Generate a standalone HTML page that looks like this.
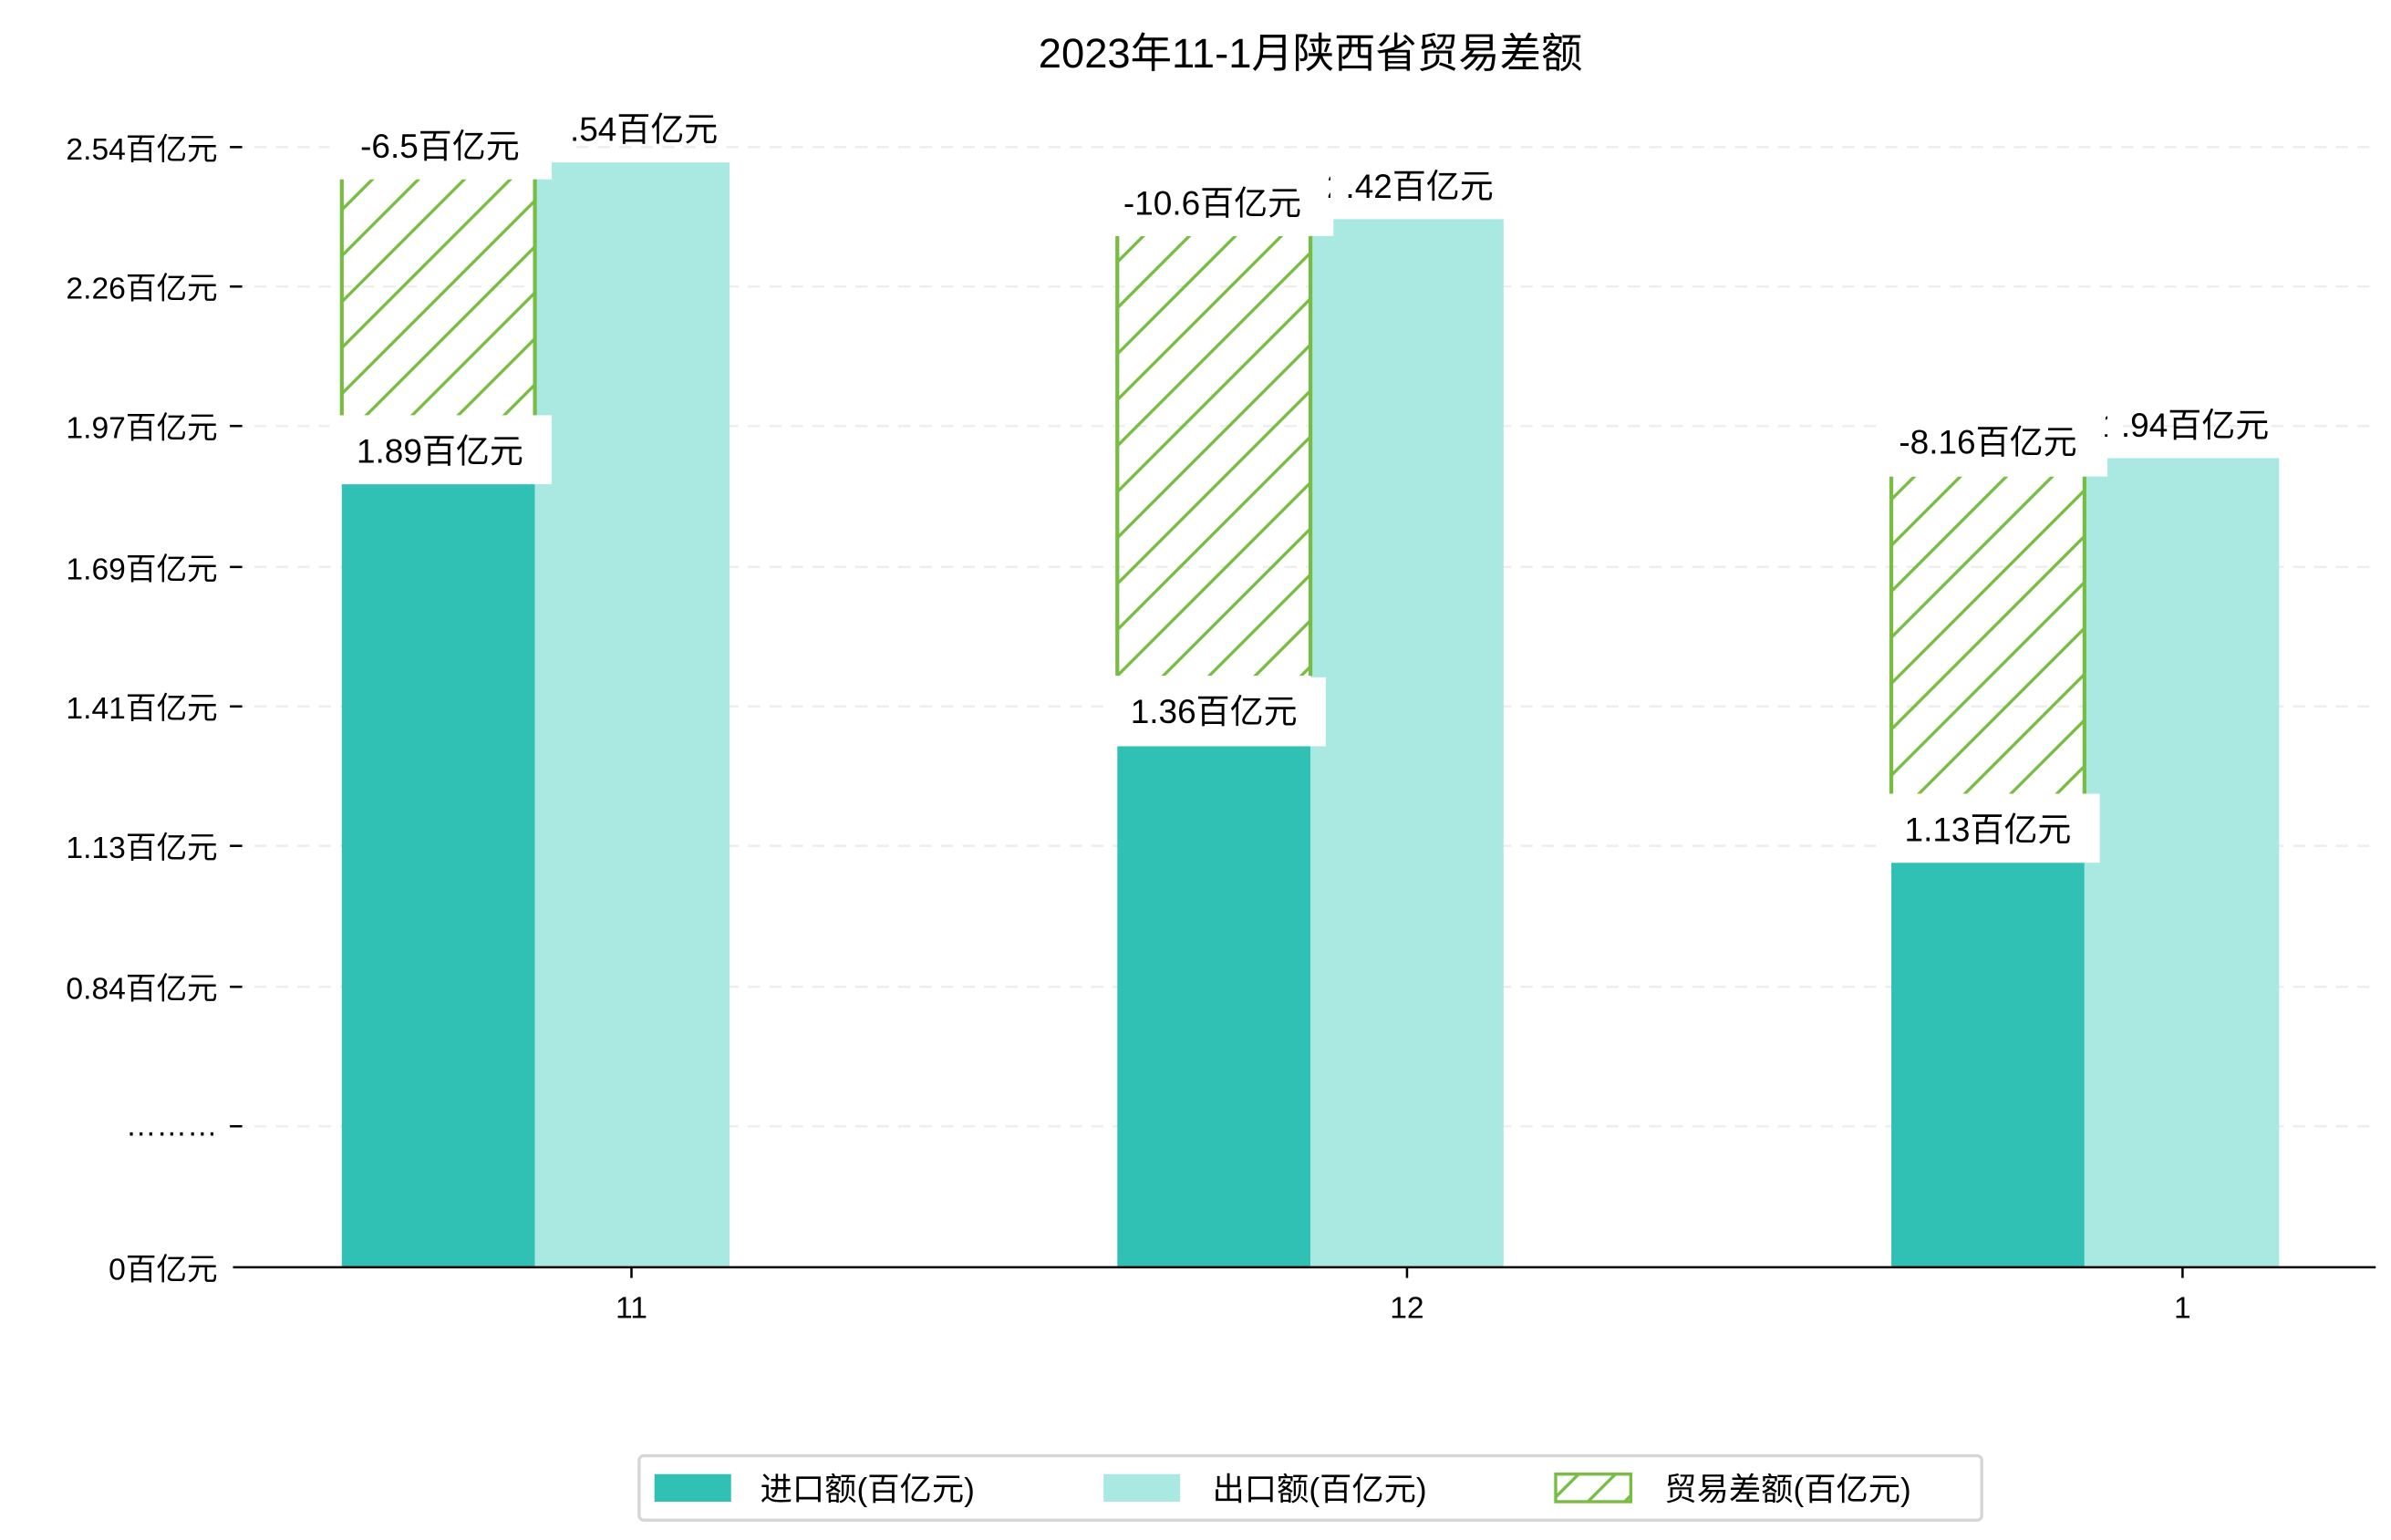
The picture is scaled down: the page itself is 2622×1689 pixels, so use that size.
<!DOCTYPE html>
<html><head><meta charset="utf-8"><style>body{margin:0;background:#fff}svg{display:block}text{font-family:"Liberation Sans","Noto Sans CJK SC",sans-serif;fill:#000}</style></head><body>
<svg width="2622" height="1689" viewBox="0 0 1560 1005" preserveAspectRatio="none" xmlns="http://www.w3.org/2000/svg">
<defs><pattern id="h" patternUnits="userSpaceOnUse" width="30" height="30"><path d="M-5,35 L35,-5 M-35,35 L35,-35 M-5,65 L65,-5" stroke="#77bd42" stroke-width="2"/></pattern>
<pattern id="h2" patternUnits="userSpaceOnUse" width="24" height="24"><path d="M-5,29 L29,-5 M-29,29 L29,-29 M-5,53 L53,-5" stroke="#77bd42" stroke-width="2"/></pattern></defs>
<text x="855" y="44" font-size="27" text-anchor="middle">2023年11-1月陕西省贸易差额</text>
<g stroke="#eee" stroke-dasharray="8,6" stroke-width="1.5">
<line x1="152" x2="1550" y1="96" y2="96"/><line x1="152" x2="1550" y1="187" y2="187"/><line x1="152" x2="1550" y1="278" y2="278"/><line x1="152" x2="1550" y1="370" y2="370"/><line x1="152" x2="1550" y1="461" y2="461"/><line x1="152" x2="1550" y1="552" y2="552"/><line x1="152" x2="1550" y1="644" y2="644"/><line x1="152" x2="1550" y1="735" y2="735"/></g>
<g font-size="20" text-anchor="end">
<text x="142" y="104">2.54百亿元</text><text x="142" y="195">2.26百亿元</text><text x="142" y="286">1.97百亿元</text><text x="142" y="378">1.69百亿元</text><text x="142" y="469">1.41百亿元</text><text x="142" y="560">1.13百亿元</text><text x="142" y="652">0.84百亿元</text><text x="142" y="741">………</text><text x="142" y="835">0百亿元</text></g>
<g stroke="#000" stroke-width="1.5"><line x1="150" x2="158" y1="96" y2="96"/><line x1="150" x2="158" y1="187" y2="187"/><line x1="150" x2="158" y1="278" y2="278"/><line x1="150" x2="158" y1="370" y2="370"/><line x1="150" x2="158" y1="461" y2="461"/><line x1="150" x2="158" y1="552" y2="552"/><line x1="150" x2="158" y1="644" y2="644"/><line x1="150" x2="158" y1="735" y2="735"/>
<line x1="412" x2="412" y1="827" y2="834"/><line x1="918" x2="918" y1="827" y2="834"/><line x1="1424" x2="1424" y1="827" y2="834"/></g>
<rect x="223" y="316" width="126" height="511" fill="#30c0b4"/><rect x="349" y="106" width="127" height="721" fill="#aae8e2"/>
<rect x="729" y="487" width="126" height="340" fill="#30c0b4"/><rect x="855" y="143" width="126" height="684" fill="#aae8e2"/>
<rect x="1234" y="563" width="126" height="264" fill="#30c0b4"/><rect x="1360" y="299" width="127" height="528" fill="#aae8e2"/>
<rect x="223" y="117" width="126" height="154" fill="url(#h)"/><rect x="729" y="154" width="126" height="287" fill="url(#h)"/><rect x="1234" y="311" width="126" height="207" fill="url(#h)"/>
<g stroke="#77bd42" stroke-width="2.5"><line x1="223" x2="223" y1="117" y2="271"/><line x1="349" x2="349" y1="117" y2="271"/><line x1="729" x2="729" y1="154" y2="441"/><line x1="855" x2="855" y1="154" y2="441"/><line x1="1234" x2="1234" y1="311" y2="518"/><line x1="1360" x2="1360" y1="311" y2="518"/></g>
<g fill="#fff"><rect x="215" y="76" width="145" height="41"/><rect x="215" y="271" width="145" height="45"/><rect x="715" y="113" width="155" height="41"/><rect x="720" y="442" width="145" height="45"/><rect x="1225" y="270" width="150" height="41"/><rect x="1225" y="518" width="145" height="45"/></g>
<g font-size="22" text-anchor="middle">
<text x="287" y="103">-6.5百亿元</text><text x="414" y="92">2.54百亿元</text>
<text x="287" y="302">1.89百亿元</text>
<text x="791" y="140">-10.6百亿元</text><text x="920" y="129">2.42百亿元</text>
<text x="792" y="472">1.36百亿元</text>
<text x="1297" y="296">-8.16百亿元</text><text x="1426" y="285">1.94百亿元</text>
<text x="1297" y="549">1.13百亿元</text></g>
<rect x="360" y="70" width="12" height="30" fill="#fff"/><rect x="868" y="108" width="10" height="30" fill="#fff"/><rect x="1375" y="265" width="10" height="30" fill="#fff"/>
<line x1="152" x2="1550" y1="827" y2="827" stroke="#000" stroke-width="1.5"/>
<g font-size="20" text-anchor="middle"><text x="412" y="860">11</text><text x="918" y="860">12</text><text x="1424" y="860">1</text></g>
<rect x="417" y="950" width="876" height="42" rx="3" fill="#fff" stroke="#d6d6d6" stroke-width="2"/>
<rect x="427" y="962" width="50" height="18" fill="#30c0b4"/><rect x="720" y="962" width="50" height="18" fill="#aae8e2"/><rect x="1015" y="962" width="49" height="18" fill="url(#h2)" stroke="#77bd42" stroke-width="2"/>
<g font-size="21"><text x="496" y="979">进口额(百亿元)</text><text x="791" y="979">出口额(百亿元)</text><text x="1086" y="979">贸易差额(百亿元)</text></g>
</svg></body></html>
